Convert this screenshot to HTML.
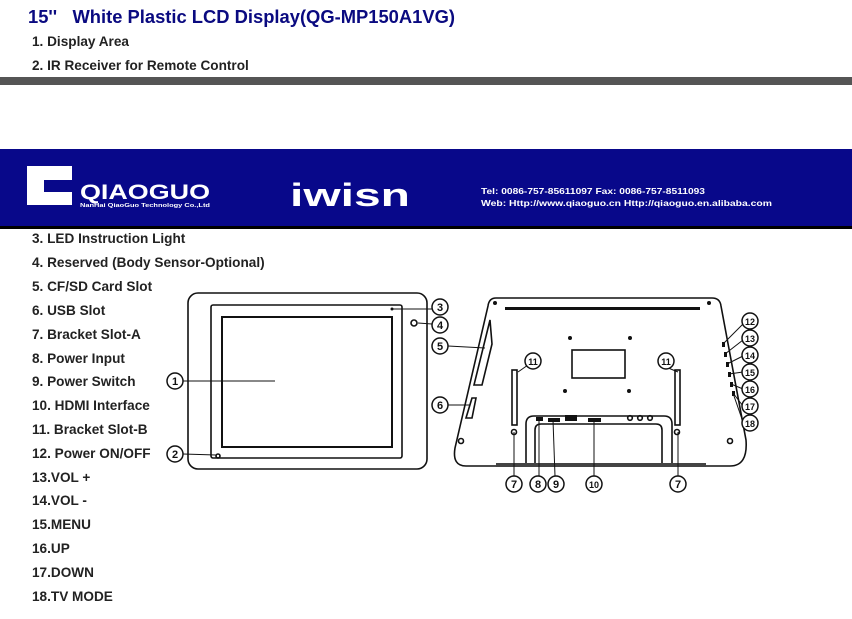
<!DOCTYPE html>
<html><head><meta charset="utf-8"><style>
html,body{margin:0;padding:0;background:#fff;}
svg{display:block;}
text{font-family:"Liberation Sans",sans-serif;}
</style></head><body>
<svg width="852" height="619" viewBox="0 0 852 619" xmlns="http://www.w3.org/2000/svg">
<rect width="852" height="619" fill="#fff"/>
<text x="28" y="23" font-size="18" font-weight="bold" fill="#0a0a80" textLength="427" lengthAdjust="spacingAndGlyphs" xml:space="preserve">15''   White Plastic LCD Display(QG-MP150A1VG)</text>
<g font-size="13.6" font-weight="bold" fill="#222">
<text x="32" y="46">1. Display Area</text>
<text x="32" y="70">2. IR Receiver for Remote Control</text>
</g>
<rect x="0" y="77" width="852" height="8" fill="#555"/>
<!-- banner -->
<rect x="0" y="149" width="852" height="77" fill="#08088a"/>
<rect x="0" y="226" width="852" height="3" fill="#000"/>
<g fill="#fff">
<path d="M27 166 H72 V180 H44 V192 H72 V205 H27 Z"/>
<rect x="50" y="184" width="22" height="5" fill="#08088a"/>
<text x="80" y="199" font-size="21" font-weight="bold" textLength="130" lengthAdjust="spacingAndGlyphs">QIAOGUO</text>
<text x="80" y="207" font-size="5" font-weight="bold" textLength="130" lengthAdjust="spacingAndGlyphs">NanHai QiaoGuo Technology Co.,Ltd</text>
<text x="290" y="206" font-size="32" font-weight="bold" textLength="120" lengthAdjust="spacingAndGlyphs">iwisn</text>
<text x="481" y="194" font-size="8.5" font-weight="bold" textLength="224" lengthAdjust="spacingAndGlyphs">Tel: 0086-757-85611097  Fax: 0086-757-8511093</text>
<text x="481" y="206" font-size="8.5" font-weight="bold" textLength="291" lengthAdjust="spacingAndGlyphs">Web: Http://www.qiaoguo.cn    Http://qiaoguo.en.alibaba.com</text>
</g>
<g font-size="13.6" font-weight="bold" fill="#222">
<text x="32" y="243">3. LED Instruction Light</text>
<text x="32" y="267">4. Reserved (Body Sensor-Optional)</text>
<text x="32" y="291">5. CF/SD Card Slot</text>
<text x="32" y="315">6. USB Slot</text>
<text x="32" y="339">7. Bracket Slot-A</text>
<text x="32" y="363">8. Power Input</text>
<text x="32" y="386">9. Power Switch</text>
<text x="32" y="410">10. HDMI Interface</text>
<text x="32" y="434">11. Bracket Slot-B</text>
<text x="32" y="458">12. Power ON/OFF</text>
<text x="32" y="482">13.VOL +</text>
<text x="32" y="505">14.VOL -</text>
<text x="32" y="529">15.MENU</text>
<text x="32" y="553">16.UP</text>
<text x="32" y="577">17.DOWN</text>
<text x="32" y="601">18.TV MODE</text>
</g>
<!-- front -->
<g fill="none" stroke="#111" stroke-width="1.6">
<rect x="188" y="293" width="239" height="176" rx="10"/>
<rect x="211" y="305" width="191" height="153" rx="2"/>
<rect x="222" y="317" width="170" height="130" stroke-width="2"/>
<circle cx="414" cy="323" r="3"/>
<circle cx="218" cy="456" r="2"/>
</g>
<circle cx="392" cy="309" r="1.5" fill="#111"/>
<g stroke="#111" stroke-width="1">
<line x1="183" y1="381" x2="275" y2="381"/>
<line x1="183" y1="454" x2="216" y2="455"/>
<line x1="393" y1="309" x2="432" y2="309"/>
<line x1="418" y1="323" x2="432" y2="324"/>
<line x1="448" y1="346" x2="485" y2="348"/>
<line x1="448" y1="405" x2="470" y2="405"/>
</g>
<!-- back -->
<g fill="none" stroke="#111" stroke-width="1.6">
<path d="M496 298 H712 Q720 298 721 306 L746 440 Q748 466 730 466 H466 Q452 466 455 448 L488 306 Q489 298 496 298 Z"/>
<path d="M526 466 V424 Q526 416 534 416 H664 Q672 416 672 424 V466"/>
<path d="M535 466 V430 Q535 424 541 424 H656 Q662 424 662 430 V466"/>
<rect x="572" y="350" width="53" height="28"/>
<path d="M490 320 L474 385 L482 385 L492 344 Z"/>
<path d="M472 398 L466 418 L472 418 L476 398 Z"/>
<rect x="512" y="370" width="5" height="55"/>
<rect x="675" y="370" width="5" height="55"/>
<circle cx="514" cy="432" r="2.5"/>
<circle cx="677" cy="432" r="2.5"/>
<circle cx="461" cy="441" r="2.5"/>
<circle cx="730" cy="441" r="2.5"/>
<circle cx="630" cy="418" r="2.3"/><circle cx="640" cy="418" r="2.3"/><circle cx="650" cy="418" r="2.3"/>
</g>
<rect x="505" y="307" width="195" height="3" fill="#111"/>
<rect x="496" y="463" width="210" height="4" fill="#444"/>
<g fill="#111">
<circle cx="495" cy="303" r="2"/><circle cx="709" cy="303" r="2"/>
<circle cx="570" cy="338" r="2"/><circle cx="630" cy="338" r="2"/>
<circle cx="565" cy="391" r="2"/><circle cx="629" cy="391" r="2"/>
<rect x="536" y="417" width="7" height="4"/><rect x="548" y="418" width="12" height="4"/>
<rect x="565" y="415" width="12" height="6"/><rect x="588" y="418" width="13" height="4"/>
<rect x="722" y="342" width="3" height="5"/><rect x="724" y="352" width="3" height="5"/>
<rect x="726" y="362" width="3" height="5"/><rect x="728" y="372" width="3" height="5"/>
<rect x="730" y="382" width="3" height="5"/><rect x="732" y="391" width="3" height="5"/>
</g>
<g stroke="#111" stroke-width="1">
<line x1="514" y1="476" x2="514" y2="432"/>
<line x1="678" y1="476" x2="678" y2="432"/>
<line x1="539" y1="476" x2="539" y2="420"/>
<line x1="555" y1="476" x2="553" y2="420"/>
<line x1="594" y1="476" x2="594" y2="420"/>
<line x1="528" y1="365" x2="518" y2="372"/>
<line x1="661" y1="365" x2="678" y2="372"/>
<line x1="743" y1="324" x2="723" y2="344"/>
<line x1="743" y1="340" x2="725" y2="354"/>
<line x1="743" y1="356" x2="727" y2="364"/>
<line x1="743" y1="372" x2="729" y2="374"/>
<line x1="743" y1="389" x2="731" y2="384"/>
<line x1="743" y1="406" x2="733" y2="393"/>
<line x1="743" y1="422" x2="734" y2="396"/>
</g>
<!-- callout circles -->
<g font-size="11" font-weight="bold" text-anchor="middle" fill="#111">
<g fill="#fff" stroke="#111" stroke-width="1.5">
<circle cx="175" cy="381" r="8"/><circle cx="175" cy="454" r="8"/>
<circle cx="440" cy="307" r="8"/><circle cx="440" cy="325" r="8"/>
<circle cx="440" cy="346" r="8"/><circle cx="440" cy="405" r="8"/>
<circle cx="533" cy="361" r="8"/><circle cx="666" cy="361" r="8"/>
<circle cx="514" cy="484" r="8"/><circle cx="538" cy="484" r="8"/>
<circle cx="556" cy="484" r="8"/><circle cx="594" cy="484" r="8"/>
<circle cx="678" cy="484" r="8"/>
<circle cx="750" cy="321" r="8"/><circle cx="750" cy="338" r="8"/>
<circle cx="750" cy="355" r="8"/><circle cx="750" cy="372" r="8"/>
<circle cx="750" cy="389" r="8"/><circle cx="750" cy="406" r="8"/>
<circle cx="750" cy="423" r="8"/>
</g>
<text x="175" y="385">1</text><text x="175" y="458">2</text>
<text x="440" y="311">3</text><text x="440" y="329">4</text>
<text x="440" y="350">5</text><text x="440" y="409">6</text>
<text x="533" y="365" font-size="9">11</text><text x="666" y="365" font-size="9">11</text>
<text x="514" y="488">7</text><text x="538" y="488">8</text>
<text x="556" y="488">9</text><text x="594" y="488" font-size="9">10</text>
<text x="678" y="488">7</text>
<g font-size="9">
<text x="750" y="325">12</text><text x="750" y="342">13</text>
<text x="750" y="359">14</text><text x="750" y="376">15</text>
<text x="750" y="393">16</text><text x="750" y="410">17</text>
<text x="750" y="427">18</text>
</g>
</g>
</svg>
</body></html>
